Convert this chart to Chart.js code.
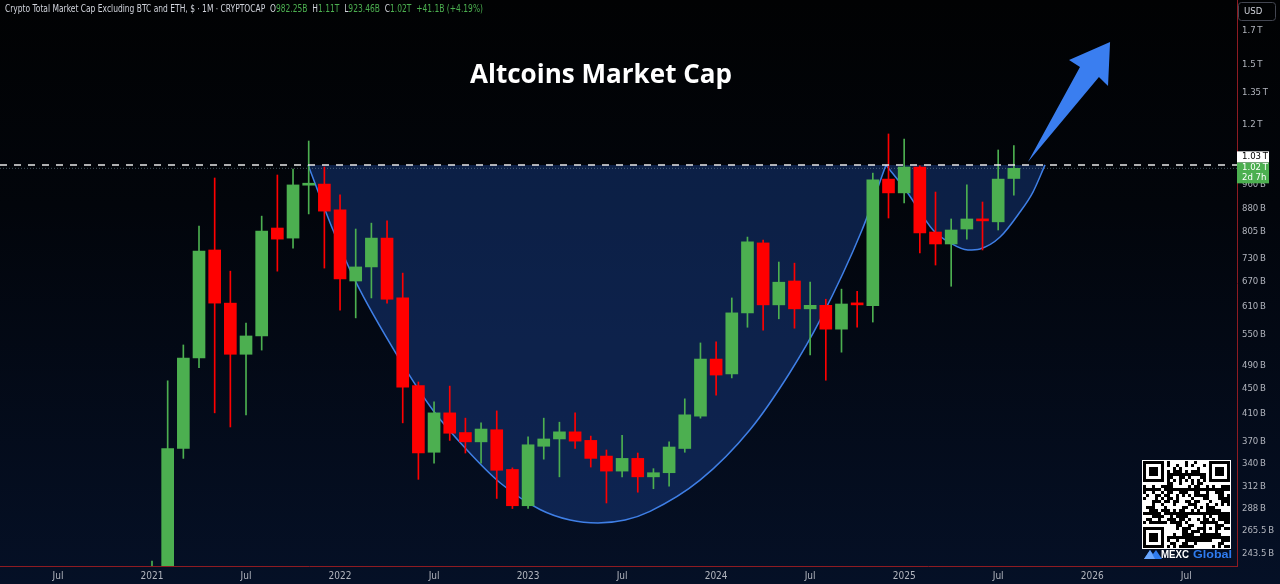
<!DOCTYPE html>
<html><head><meta charset="utf-8">
<script src="https://cdn.jsdelivr.net/npm/chart.js@4.4.1/dist/chart.umd.min.js"></script>
<style>html,body{margin:0;padding:0;background:#010203;overflow:hidden}canvas{display:block}</style>
</head><body>
<canvas id="c" width="1280" height="584"></canvas>
<script>
// ---------- DATA (values in billions USD) ----------
const months = ['2021-01','2021-02','2021-03','2021-04','2021-05','2021-06','2021-07','2021-08','2021-09','2021-10','2021-11','2021-12',
 '2022-01','2022-02','2022-03','2022-04','2022-05','2022-06','2022-07','2022-08','2022-09','2022-10','2022-11','2022-12',
 '2023-01','2023-02','2023-03','2023-04','2023-05','2023-06','2023-07','2023-08','2023-09','2023-10','2023-11','2023-12',
 '2024-01','2024-02','2024-03','2024-04','2024-05','2024-06','2024-07','2024-08','2024-09','2024-10','2024-11','2024-12',
 '2025-01','2025-02','2025-03','2025-04','2025-05','2025-06','2025-07','2025-08'];
const open  = [200,226,360,504,753,618,511,547,817,787,958,962, 874,671,707,787,630,455,355,411,382,369,386,333,
 291,363,373,383,371,350,331,347,324,329,360,406, 502,475,596,773,614,671,605,613,561,617,612,980,
 931,1025,805,770,814,843,836,982.25];
const high  = [237,463,529,823,984,696,574,854,995,1017,1129,1025, 924,814,832,839,691,461,428,454,403,396,414,335,
 376,403,397,411,377,358,378,354,334,369,433,533, 535,630,790,781,720,717,668,627,651,646,1002,1159,
 1137,1030,934,845,959,900,1092,1110];
const low   = [175,215,347,486,411,390,408,519,696,758,861,704, 602,585,630,618,396,321,341,371,354,341,299,288,
 288,346,324,360,336,294,324,306,310,313,355,403, 439,468,565,559,583,563,510,464,515,565,576,848,
 897,745,712,658,784,753,811,923.46];
const close = [226,360,504,750,618,511,547,808,784,959,964,870, 676,707,787,627,452,354,411,381,369,387,332,291,
 365,373,383,370,347,331,347,324,329,362,408,502, 473,596,776,614,668,605,613,561,616,614,977,931,
 1025,802,770,811,845,839,980,1020];

const xTicks = [-6,0,6,12,18,24,30,36,42,48,54,60,66];
const xTickLabels = ['Jul','2021','Jul','2022','Jul','2023','Jul','2024','Jul','2025','Jul','2026','Jul'];
const yTicks = [243.5,265.5,288,312,340,370,410,450,490,550,610,670,730,805,880,960,1200,1350,1500,1700];

const resistance = 1033;   // dashed neckline
const lastPrice = 1020;
const changeText = '+41.1B (+4.19%)';
const symbolText = 'Crypto Total Market Cap Excluding BTC and ETH, $ · 1M · CRYPTOCAP';

// cup & handle curve (month index from Jan 2021, value)
const cupX = [9.96,11.55,12.95,15.83,17.93,20.10,22.21,24.76,26.68,28.46,30.19,31.78,34.97,38.16,40.72,42.63,45.31,46.84];
const cupY = [1033,811,673,500,415,358,317,287,276,273,276,285,320,386,478,580,811,1033];
const handleX = [46.84,48.18,49.84,50.93,52.07,52.84,54.12,55.39,56.22,56.99];
const handleY = [1033,934,811,773,753,756,790,867,934,1033];

// arrow annotation (month index, value)
const arrowX = [55.90,59.22,58.52,61.14,61.01,60.43];
const arrowY = [1044,1487,1526,1631,1385,1432];

// ---------- helpers ----------
const GREEN = '#4caf50', RED = '#ff0000';
const xMin = -9.70, xMax = 69.24, yMin = 232.6, yMax = 1907;
const idx = months.map(s => { const [y,m] = s.split('-').map(Number); return (y-2021)*12 + (m-1); });
const colors = idx.map((_,i) => close[i] >= open[i] ? GREEN : RED);
const fmtV = v => v >= 1000 ? (+(v/1000).toFixed(2))+'\u2009T' : (+v.toFixed(2))+'\u2009B';
const fmtH = v => v >= 1000 ? (+(v/1000).toFixed(2))+'T' : (+v.toFixed(2))+'B';
const FONT = "'Liberation Sans Narrow','DejaVu Sans Condensed','Liberation Sans',sans-serif";

function fitText(ctx, text, x, y, w, font, color, align){
  ctx.save(); ctx.font = font; ctx.fillStyle = color; ctx.textBaseline = 'middle';
  const mw = ctx.measureText(text).width; const sx = w ? Math.min(1.6, w/mw) : 1;
  ctx.translate(x, y); ctx.scale(sx, 1); ctx.textAlign = align || 'left';
  ctx.fillText(text, 0, 0); ctx.restore();
}
function drawSegments(ctx, segs, x, y, totalW, font){
  ctx.save(); ctx.font = font; ctx.textBaseline = 'middle'; ctx.textAlign = 'left';
  const full = segs.map(s=>s[0]).join('');
  const sx = totalW / ctx.measureText(full).width;
  ctx.translate(x, y); ctx.scale(sx, 1);
  let cx = 0;
  segs.forEach(s => { ctx.fillStyle = s[1]; ctx.fillText(s[0], cx, 0); cx += ctx.measureText(s[0]).width; });
  ctx.restore();
}

const bgPlugin = {
  id:'bg',
  beforeDraw(chart){
    const c = chart.ctx; const g = c.createLinearGradient(0,0,0,584);
    g.addColorStop(0,'#010203'); g.addColorStop(0.35,'#02050b'); g.addColorStop(1,'#051026');
    c.save(); c.fillStyle = g; c.fillRect(0,0,1280,584); c.restore();
  }
};

const decoPlugin = {
  id:'deco',
  afterDraw(chart){
    const c = chart.ctx, xs = chart.scales.x, ys = chart.scales.y;
    // arrow
    c.save(); c.beginPath();
    arrowX.forEach((m,i)=>{ const px = xs.getPixelForValue(m), py = ys.getPixelForValue(arrowY[i]); i?c.lineTo(px,py):c.moveTo(px,py); });
    c.closePath(); c.fillStyle = '#3a7ef0'; c.fill(); c.restore();

    // title
    fitText(c, 'Altcoins Market Cap', 470, 75, 262, "bold 27px 'Open Sans', Roboto, sans-serif", '#ffffff');

    // header
    const n = open.length-1, G = '#d1d4dc';
    drawSegments(c, [[symbolText+'  ',G],['O',G],[fmtH(open[n])+'  ',GREEN],['H',G],[fmtH(high[n])+'  ',GREEN],
      ['L',G],[fmtH(low[n])+'  ',GREEN],['C',G],[fmtH(close[n])+'  ',GREEN],[changeText,GREEN]], 5, 9, 478, '10px '+FONT);

    // USD box
    c.save(); c.strokeStyle = '#434651'; c.lineWidth = 1; c.beginPath();
    c.roundRect(1238.5, 2.5, 37, 18, 3); c.stroke(); c.restore();
    fitText(c, 'USD', 1244, 12, 0, '9.5px '+FONT, '#d1d4dc');

    // price labels
    const yl = ys.getPixelForValue(lastPrice);
    c.save();
    c.fillStyle = '#4caf50'; c.fillRect(1237, yl-6, 32, 21);
    c.fillStyle = '#ffffff'; c.fillRect(1237, yl-17, 32, 11);
    c.restore();
    fitText(c, fmtV(resistance), 1242, yl-11.5, 0, '9.5px '+FONT, '#000000');
    fitText(c, fmtV(lastPrice), 1242, yl-0.5, 0, '9.5px '+FONT, '#ffffff');
    fitText(c, '2d 7h', 1242, yl+9, 0, '9.5px '+FONT, '#ffffff');

    // QR code watermark
    const qx = 1143, qy = 461, ms = 3, N = 29;
    c.save(); c.fillStyle = '#ffffff'; c.fillRect(qx-1, qy-1, N*ms+2, N*ms+2);
    c.fillStyle = '#000000';
    const inF = (r,cc,r0,c0)=> r>=r0 && r<r0+7 && cc>=c0 && cc<c0+7;
    const inZ = (r,cc,r0,c0)=> r>=r0-1 && r<r0+8 && cc>=c0-1 && cc<c0+8;
    for(let r=0;r<N;r++) for(let cc=0;cc<N;cc++){
      let dark = false;
      const F = [[0,0],[0,N-7],[N-7,0]];
      let zone = false;
      for(const [r0,c0] of F){ if(inF(r,cc,r0,c0)){ const a=r-r0,b=cc-c0; dark = (a===0||a===6||b===0||b===6||(a>=2&&a<=4&&b>=2&&b<=4)); zone=true; } else if(inZ(r,cc,r0,c0)) zone=true; }
      if(!zone){
        if(r>=20&&r<=24&&cc>=20&&cc<=24){ const a=r-20,b=cc-20; dark = (a===0||a===4||b===0||b===4||(a===2&&b===2)); }
        else if(r===6) dark = cc%2===0; else if(cc===6) dark = r%2===0;
        else { let h = (r*2654435761 ^ cc*40503 ^ (r*cc*97)) >>> 0; h = (h ^ (h>>>13)) * 1274126177 >>> 0; dark = ((h>>>7)&3) < 2; }
      }
      if(dark) c.fillRect(qx+cc*ms, qy+r*ms, ms, ms);
    }
    c.restore();
    // MEXC logo
    c.save(); c.fillStyle = '#2f7cf0'; c.beginPath();
    c.moveTo(1144,559); c.lineTo(1150,550); c.lineTo(1153,554); c.lineTo(1156,550); c.lineTo(1162,559); c.closePath(); c.fill();
    c.fillStyle = '#6aa7ff'; c.beginPath(); c.moveTo(1150,550); c.lineTo(1155,559); c.lineTo(1144,559); c.closePath(); c.fill();
    c.restore();
    fitText(c, 'MEXC', 1161, 555, 28, "bold 11px 'Liberation Sans', Arial, sans-serif", '#ffffff');
    fitText(c, 'Global', 1193, 555, 39, "bold 11px 'Liberation Sans', Arial, sans-serif", '#2f7cf0');
  }
};

const wickData = idx.map((m,i)=>({x:m, y:[low[i], high[i]]}));
const bodyData = idx.map((m,i)=>({x:m, y:[open[i], close[i]]}));
const cupData = cupX.map((m,i)=>({x:m, y:cupY[i]}));
const handleData = handleX.map((m,i)=>({x:m, y:handleY[i]}));
const zeroPad = a => { a.paddingTop = 0; a.paddingBottom = 0; a.paddingLeft = 0; a.paddingRight = 0; };

new Chart(document.getElementById('c'), {
  type:'bar',
  data:{ datasets:[
    {type:'line', data:[{x:xMin,y:resistance},{x:xMax,y:resistance}], borderColor:'#e8e8e8', borderWidth:1.5, borderDash:[7,7], pointRadius:0, order:0},
    {type:'line', data:[{x:xMin,y:lastPrice},{x:xMax,y:lastPrice}], borderColor:'rgba(120,150,160,0.55)', borderWidth:1, borderDash:[1,2], pointRadius:0, order:3},
    {type:'bar', data:bodyData, backgroundColor:colors, barThickness:12, grouped:false, minBarLength:2, borderWidth:0, order:1},
    {type:'bar', data:wickData, backgroundColor:colors, barThickness:1, grouped:false, borderWidth:0, order:2},
    {type:'line', data:cupData, borderColor:'#3f7fe6', borderWidth:1.5, pointRadius:0, cubicInterpolationMode:'monotone',
      fill:{value:resistance}, backgroundColor:'rgba(22,54,120,0.55)', order:5},
    {type:'line', data:handleData, borderColor:'#3f7fe6', borderWidth:1.5, pointRadius:0, cubicInterpolationMode:'monotone',
      fill:{value:resistance}, backgroundColor:'rgba(22,54,120,0.55)', order:5}
  ]},
  options:{
    responsive:false, animation:false, devicePixelRatio:1,
    layout:{padding:0},
    plugins:{legend:{display:false}, tooltip:{enabled:false}},
    scales:{
      x:{type:'linear', min:xMin, max:xMax, offset:false,
         grid:{display:false, drawTicks:false}, border:{display:true, color:'#8e1b22', width:1},
         afterBuildTicks:a=>{a.ticks = xTicks.map(v=>({value:v}));},
         afterFit:a=>{a.height = 18; zeroPad(a);},
         ticks:{autoSkip:false, maxRotation:0, padding:4, color:'#b2b5be', font:{size:10, family:FONT},
           callback:v=>xTickLabels[xTicks.indexOf(v)]}},
      y:{type:'logarithmic', position:'right', min:yMin, max:yMax,
         grid:{display:false, drawTicks:false}, border:{display:true, color:'#8e1b22', width:1},
         afterBuildTicks:a=>{a.ticks = yTicks.map(v=>({value:v}));},
         afterFit:a=>{a.width = 43; zeroPad(a);},
         ticks:{autoSkip:false, padding:5, color:'#b2b5be', font:{size:9.5, family:FONT}, callback:v=>fmtV(v)}}
    }
  },
  plugins:[bgPlugin, decoPlugin]
});
</script>
</body></html>
